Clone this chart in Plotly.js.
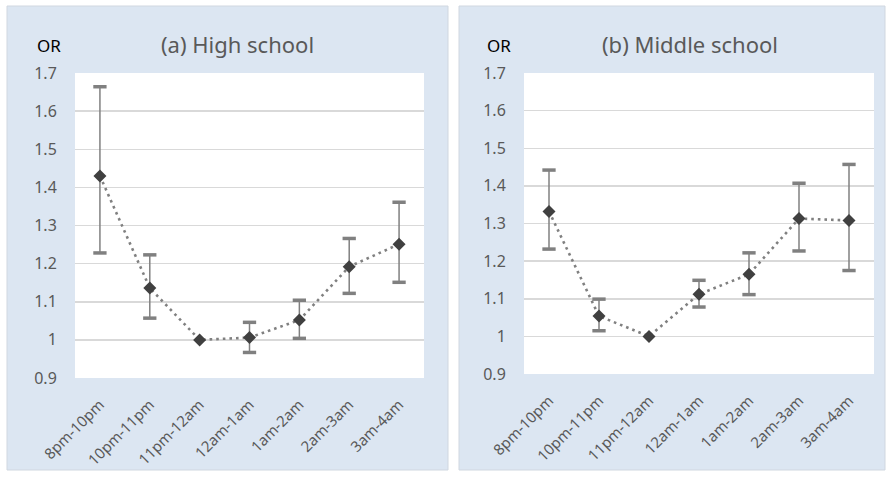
<!DOCTYPE html>
<html>
<head>
<meta charset="utf-8">
<script src="https://cdn.plot.ly/plotly-3.0.1.min.js"></script>
<style>html,body{margin:0;padding:0;background:#fff;}#chart{width:888px;height:478px;}</style>
</head>
<body>
<div id="chart"></div>
<script>
// ---- data ----
const categories = ['8pm-10pm','10pm-11pm','11pm-12am','12am-1am','1am-2am','2am-3am','3am-4am'];
const highOR    = [1.430, 1.136, 1.000, 1.006, 1.052, 1.192, 1.251];
const highUpper = [1.664, 1.223, null,  1.046, 1.104, 1.266, 1.361];
const highLower = [1.228, 1.057, null,  0.967, 1.004, 1.122, 1.151];
const midOR     = [1.332, 1.054, 1.000, 1.112, 1.165, 1.313, 1.308];
const midUpper  = [1.442, 1.099, null,  1.149, 1.222, 1.407, 1.457];
const midLower  = [1.232, 1.015, null,  1.078, 1.111, 1.227, 1.175];
const panelTitles = ['(a) High school', '(b) Middle school'];
const yTitle = 'OR';

const W = 888, H = 478;
const px = v => v / W, py = v => 1 - v / H;
const FONT = '"Noto Sans", "Open Sans", sans-serif';
const grey = '#808080';

function mainTrace(or, up, lo, xa, ya) {
  return {
    type: 'scatter', mode: 'lines+markers', x: categories, y: or,
    xaxis: xa, yaxis: ya,
    line: {color: grey, width: 2.6, dash: '2.6px,4px'},
    marker: {symbol: 'diamond', size: 10, color: '#404040'},
    error_y: {
      type: 'data', symmetric: false,
      array: or.map((v, i) => up[i] == null ? 0 : up[i] - v),
      arrayminus: or.map((v, i) => lo[i] == null ? 0 : v - lo[i]),
      color: grey, thickness: 1.5, width: 0
    },
    hoverinfo: 'x+y', showlegend: false
  };
}
function capTrace(vals, xa, ya) {
  return {
    type: 'scatter', mode: 'markers', x: categories, y: vals,
    xaxis: xa, yaxis: ya,
    marker: {symbol: 'line-ew', size: 9.5, line: {color: grey, width: 3.5}},
    hoverinfo: 'skip', showlegend: false
  };
}

const data = [
  capTrace(highUpper, 'x', 'y'), capTrace(highLower, 'x', 'y'),
  mainTrace(highOR, highUpper, highLower, 'x', 'y'),
  capTrace(midUpper, 'x2', 'y2'), capTrace(midLower, 'x2', 'y2'),
  mainTrace(midOR, midUpper, midLower, 'x2', 'y2')
];

function xax(domain, anchor) {
  return {
    domain: domain, anchor: anchor, type: 'category', categoryorder: 'array',
    categoryarray: categories, range: [-0.5, 6.5], tickangle: -45,
    ticks: 'outside', ticklen: 11, tickcolor: 'rgba(0,0,0,0)',
    showgrid: false, showline: false, zeroline: false,
    tickfont: {family: FONT, size: 15, color: '#595959'}, fixedrange: true
  };
}
function yax(domain, anchor) {
  return {
    domain: domain, anchor: anchor, range: [0.9, 1.7], dtick: 0.1, tick0: 0.9,
    showgrid: true, gridcolor: '#d9d9d9', gridwidth: 1.5,
    zeroline: false, showline: false,
    ticks: 'outside', ticklen: 14, tickcolor: 'rgba(0,0,0,0)',
    tickfont: {family: FONT, size: 16, color: '#595959'}, fixedrange: true
  };
}

const layout = {
  width: W, height: H,
  margin: {l: 0, r: 0, t: 0, b: 0},
  paper_bgcolor: '#ffffff', plot_bgcolor: '#ffffff',
  showlegend: false,
  xaxis: xax([px(75), px(424)], 'y'),
  yaxis: yax([py(378), py(73)], 'x'),
  xaxis2: xax([px(524), px(874)], 'y2'),
  yaxis2: yax([py(374), py(73)], 'x2'),
  shapes: [
    {type: 'rect', xref: 'paper', yref: 'paper', x0: px(7), x1: px(448), y0: py(470), y1: py(6),
     fillcolor: '#dce6f2', line: {color: '#d0d7e0', width: 1}, layer: 'below'},
    {type: 'rect', xref: 'paper', yref: 'paper', x0: px(459), x1: px(885), y0: py(470), y1: py(6),
     fillcolor: '#dce6f2', line: {color: '#d0d7e0', width: 1}, layer: 'below'},
    {type: 'rect', xref: 'paper', yref: 'paper', x0: px(75), x1: px(424), y0: py(378), y1: py(73),
     fillcolor: '#ffffff', line: {width: 0}, layer: 'below'},
    {type: 'rect', xref: 'paper', yref: 'paper', x0: px(524), x1: px(874), y0: py(374), y1: py(73),
     fillcolor: '#ffffff', line: {width: 0}, layer: 'below'}
  ],
  annotations: [
    {xref: 'paper', yref: 'paper', x: px(238), y: py(44), text: panelTitles[0], showarrow: false,
     xanchor: 'center', yanchor: 'middle', font: {family: FONT, size: 22, color: '#595959'}},
    {xref: 'paper', yref: 'paper', x: px(690), y: py(44), text: panelTitles[1], showarrow: false,
     xanchor: 'center', yanchor: 'middle', font: {family: FONT, size: 22, color: '#595959'}},
    {xref: 'paper', yref: 'paper', x: px(35), y: py(46), text: yTitle, showarrow: false,
     xanchor: 'left', yanchor: 'middle', font: {family: FONT, size: 17, color: '#000000'}},
    {xref: 'paper', yref: 'paper', x: px(485), y: py(46), text: yTitle, showarrow: false,
     xanchor: 'left', yanchor: 'middle', font: {family: FONT, size: 17, color: '#000000'}}
  ]
};

Plotly.newPlot('chart', data, layout, {staticPlot: true, displayModeBar: false});
</script>
</body>
</html>
